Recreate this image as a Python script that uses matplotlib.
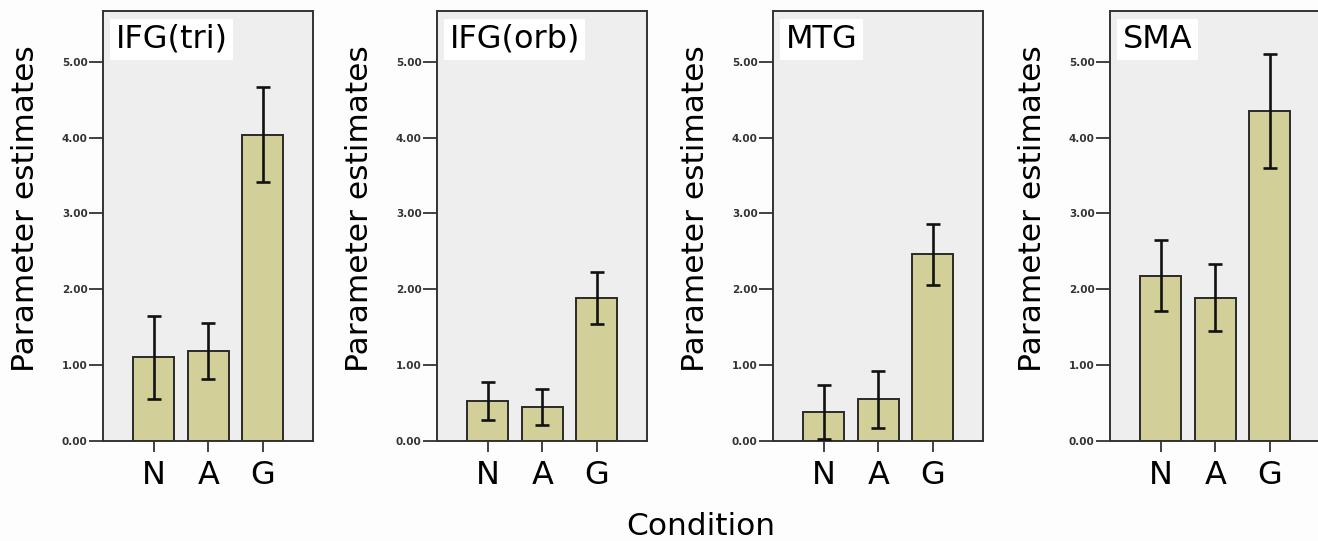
import numpy as np
import matplotlib
matplotlib.use("Agg")
import matplotlib.pyplot as plt

# data (bar height, lower and upper end of the error bar)
conditions = ["N", "A", "G"]
regions = ["IFG(tri)", "IFG(orb)", "MTG", "SMA"]

tri_mean = [1.10, 1.185, 4.04]
tri_low = [0.545, 0.81, 3.41]
tri_high = [1.64, 1.555, 4.67]

orb_mean = [0.53, 0.445, 1.885]
orb_low = [0.27, 0.21, 1.54]
orb_high = [0.78, 0.68, 2.23]

mtg_mean = [0.375, 0.545, 2.46]
mtg_low = [0.02, 0.17, 2.05]
mtg_high = [0.73, 0.925, 2.86]

sma_mean = [2.175, 1.885, 4.35]
sma_low = [1.71, 1.445, 3.60]
sma_high = [2.65, 2.33, 5.10]

yticks = [0, 1, 2, 3, 4, 5]

means = [tri_mean, orb_mean, mtg_mean, sma_mean]
lows = [tri_low, orb_low, mtg_low, sma_low]
highs = [tri_high, orb_high, mtg_high, sma_high]

W, H = 1318, 541
fig = plt.figure(figsize=(W / 100, H / 100), dpi=100)
fig.patch.set_facecolor("#fdfdfd")

lefts = [103, 437, 773, 1110]
bottom = 1 - 440.7 / H
height = 429.7 / H

x = np.arange(len(conditions))
for i in range(4):
    ax = fig.add_axes([lefts[i] / W, bottom, 210 / W, height])
    ax.set_facecolor("#eeeeee")
    m = np.array(means[i])
    lo = m - np.array(lows[i])
    hi = np.array(highs[i]) - m
    ax.bar(x, m, width=0.75, color="#d3cf98", edgecolor="#2a2a2a", linewidth=1.4, zorder=2)
    ax.errorbar(x, m, yerr=[lo, hi], fmt="none", ecolor="#111111",
                elinewidth=1.9, capsize=5.2, capthick=1.9, zorder=3)
    ax.set_xlim(-0.93, 2.92)
    ax.set_ylim(0, 5.67)
    ax.set_yticks(yticks)
    ax.set_yticklabels(["%.2f" % v for v in yticks], fontsize=7.5, color="#333333",
                       fontweight="bold")
    ax.set_xticks(x)
    ax.set_xticklabels(conditions, fontsize=23)
    ax.tick_params(axis="y", length=10, width=1.3, pad=1, color="#333333")
    ax.tick_params(axis="x", length=8, width=1.3, pad=6, color="#333333")
    for s in ax.spines.values():
        s.set_color("#333333")
        s.set_linewidth(1.4)
    ax.set_ylabel("Parameter estimates", fontsize=22.5)
    ax.yaxis.set_label_coords(-0.30, 0.54)
    ax.text(0.06, 0.914, regions[i], transform=ax.transAxes, fontsize=23,
            ha="left", va="baseline", zorder=5,
            bbox=dict(facecolor="white", edgecolor="none", pad=4))

fig.text(0.532, 0.011, "Condition", fontsize=22.5, ha="center", va="baseline")

fig.savefig("out.png", dpi=100, facecolor=fig.get_facecolor())
